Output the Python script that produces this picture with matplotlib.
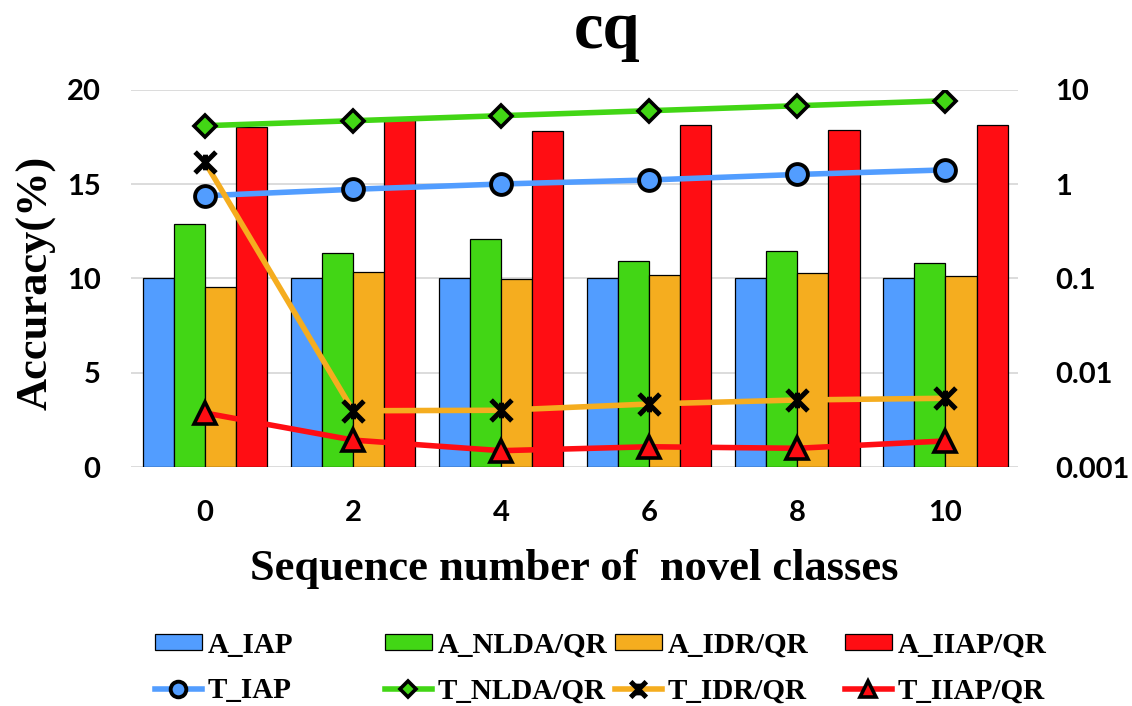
import numpy as np
import matplotlib.pyplot as plt
from matplotlib.path import Path

# x categories
novel = ["0", "2", "4", "6", "8", "10"]

# accuracy bars (left axis, %)
a_iap = [10.0, 10.0, 10.0, 10.0, 10.0, 10.0]
a_nlda = [12.87, 11.35, 12.08, 10.93, 11.48, 10.8]
a_idr = [9.55, 10.35, 9.95, 10.2, 10.27, 10.15]
a_iiap = [18.05, 18.45, 17.85, 18.15, 17.9, 18.15]

# time lines (right axis, log)
t_iap = [0.755, 0.884, 1.006, 1.11, 1.27, 1.42]
t_nlda = [4.18, 4.72, 5.34, 6.03, 6.81, 7.69]
t_idr = [1.71, 0.00395, 0.0040, 0.00466, 0.00514, 0.00536]
t_iiap = [0.00374, 0.00193, 0.00149, 0.00164, 0.00158, 0.00189]

c_blue = "#529DFF"
c_green = "#42D615"
c_orange = "#F5AD1F"
c_red = "#FF0D13"

serif = "Liberation Serif"
sans = "Lato"

# star marker like Excel's (X with a vertical stroke)
star = Path([(-1, -1), (1, 1), (-1, 1), (1, -1), (0, -0.75), (0, 0.75)],
            [Path.MOVETO, Path.LINETO, Path.MOVETO, Path.LINETO, Path.MOVETO, Path.LINETO])

fig = plt.figure(figsize=(11.32, 7.06), dpi=100)
ax = fig.add_axes([131/1132, 1-467/706, (1018-131)/1132, (467-90)/706])
ax2 = ax.twinx()

x = np.arange(len(novel))
w = 0.21
bars = []
for i, (vals, col, lab) in enumerate([(a_iap, c_blue, "A_IAP"), (a_nlda, c_green, "A_NLDA/QR"),
                                      (a_idr, c_orange, "A_IDR/QR"), (a_iiap, c_red, "A_IIAP/QR")]):
    b = ax.bar(x + (i - 1.5) * w, vals, w, color=col, edgecolor="black", linewidth=0.9, label=lab)
    bars.append(b)

ax.set_ylim(0, 20)
ax.set_yticks([0, 5, 10, 15, 20])
ax.set_xlim(-0.5, 5.49)
ax.set_xticks(x)
ax.set_xticklabels(novel)
ax.grid(axis="y", color="#D9D9D9", linewidth=1.3)
ax.set_axisbelow(True)

l1, = ax2.plot(x, t_iap, color=c_blue, lw=4, marker="o", ms=15, mfc=c_blue, mec="black", mew=2.8, label="T_IAP")
l2, = ax2.plot(x, t_nlda, color=c_green, lw=4, marker="D", ms=11, mfc=c_green, mec="black", mew=2.6, label="T_NLDA/QR")
l3, = ax2.plot(x, t_idr, color=c_orange, lw=4, marker=star, ms=15, mfc="none", mec="black", mew=3.6, label="T_IDR/QR")
l4, = ax2.plot(x, t_iiap, color=c_red, lw=4, marker="^", ms=16, mfc=c_red, mec="black", mew=2.6, label="T_IIAP/QR")
ax2.set_yscale("log")
ax2.set_ylim(0.001, 10)
ax2.set_yticks([0.001, 0.01, 0.1, 1, 10])
ax2.set_yticklabels(["0.001", "0.01", "0.1", "1", "10"])
ax2.minorticks_off()

for a in (ax, ax2):
    for s in a.spines.values():
        s.set_visible(False)
    a.tick_params(length=0)

ax.tick_params(axis="y", pad=22, labelsize=21)
ax.tick_params(axis="x", pad=24, labelsize=21)
ax2.tick_params(axis="y", pad=27, labelsize=21)
for t in ax.get_xticklabels() + ax.get_yticklabels() + ax2.get_yticklabels():
    t.set_fontfamily(sans)
    t.set_fontweight("bold")

ax.set_xlabel("Sequence number of  novel classes", fontsize=32, fontfamily=serif,
              fontweight="bold", labelpad=16)
fig.text(36/1132, 1-283/706, "Accuracy(%)", rotation=90, ha="center", va="center",
         fontsize=32, fontfamily=serif, fontweight="bold")
fig.text(607/1132, 1-48/706, "cq", ha="center", va="baseline", fontsize=48,
         fontfamily=serif, fontweight="bold")

# legend: four columns placed like the original
cols = [(bars[0], l1), (bars[1], l2), (bars[2], l3), (bars[3], l4)]
col_x = [155, 385, 615, 845]
for (b, l), cx in zip(cols, col_x):
    leg = fig.legend(handles=[b, l], loc="center left", bbox_to_anchor=(cx/1132, 1-668/706),
                     frameon=False, borderpad=0, borderaxespad=0, handlelength=1.6,
                     handleheight=0.5, handletextpad=0.2, labelspacing=0.65, markerscale=0.75,
                     prop={"family": serif, "weight": "bold", "size": 21})

fig.savefig("out.png", dpi=100)
